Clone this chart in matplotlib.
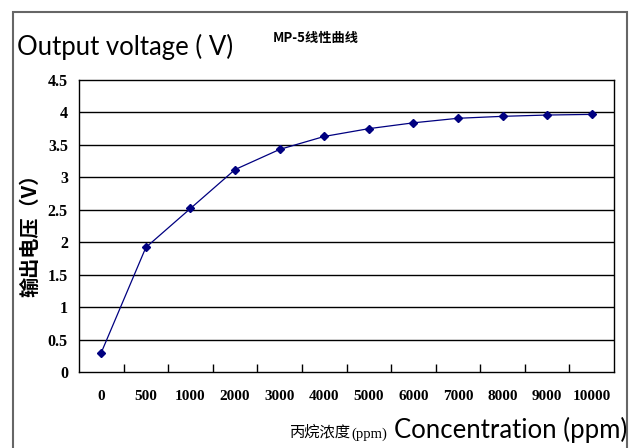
import matplotlib.pyplot as plt
from matplotlib.patches import Rectangle

# 数据
concentration = ["0", "500", "1000", "2000", "3000", "4000", "5000",
                 "6000", "7000", "8000", "9000", "10000"]
voltage = [0.30, 1.92, 2.52, 3.12, 3.43, 3.63, 3.75, 3.84, 3.91, 3.94, 3.96, 3.97]
y_ticks = [0, 0.5, 1, 1.5, 2, 2.5, 3, 3.5, 4, 4.5]
y_tick_labels = ["0", "0.5", "1", "1.5", "2", "2.5", "3", "3.5", "4", "4.5"]

W, H = 629, 448
num_font = "Liberation Serif"
cjk_font = ["Noto Sans CJK SC", "DejaVu Sans"]

fig = plt.figure(figsize=(W / 100, H / 100), dpi=100)
ax = fig.add_axes([79 / W, 1 - 372 / H, 535 / W, 292 / H])

x = list(range(len(concentration)))
ax.plot(x, voltage, color="#000080", linewidth=0.9, marker="D",
        markersize=4.5, markerfacecolor="#000080", markeredgecolor="#000080")

# 网格线
for v in y_ticks[1:-1]:
    ax.axhline(v, color="black", linewidth=1.0, zorder=0)

ax.set_xlim(-0.5, len(concentration) - 0.5)
ax.set_ylim(0, 4.5)
ax.set_yticks(y_ticks)
ax.set_yticklabels(y_tick_labels, fontfamily=num_font, fontsize=11.5, fontweight="bold")
ax.set_xticks(x)
ax.set_xticklabels(concentration, fontfamily=num_font, fontsize=11, fontweight="bold")
ax.set_xticks([i + 0.5 for i in x[:-1]], minor=True)
ax.tick_params(axis="x", which="major", length=0, pad=13)
ax.tick_params(axis="x", which="minor", direction="in", length=6, width=1, color="black")
ax.tick_params(axis="y", length=0, pad=8)
for s in ax.spines.values():
    s.set_linewidth(1.0)
    s.set_color("black")

# 外框
fig.patches.append(Rectangle((13 / W, -0.05), 614 / W, 1.05 - 12 / H,
                             transform=fig.transFigure, fill=False,
                             edgecolor="#666666", linewidth=1.5))

# 文字
fig.text(316 / W, 1 - 38 / H, "MP-5线性曲线", family=cjk_font, fontsize=9.5,
         fontweight="bold", ha="center", va="center")
fig.text(17 / W, 1 - 47 / H, "Output voltage ( V)", family="Lato", fontsize=18.5,
         ha="left", va="center")
fig.text(30 / W, 1 - 230 / H, "输出电压（V）", family=cjk_font, fontsize=14.5,
         fontweight="bold", rotation=90, ha="center", va="center")
fig.text(290 / W, 1 - 432 / H, "丙烷浓度", family=cjk_font, fontsize=11,
         ha="left", va="center")
fig.text(351 / W, 1 - 434 / H, "(ppm)", family=num_font, fontsize=10.5,
         ha="left", va="center")
fig.text(627 / W, 1 - 430 / H, "Concentration (ppm)", family="Lato", fontsize=18.5,
         ha="right", va="center")

fig.savefig("out.png", dpi=100)
